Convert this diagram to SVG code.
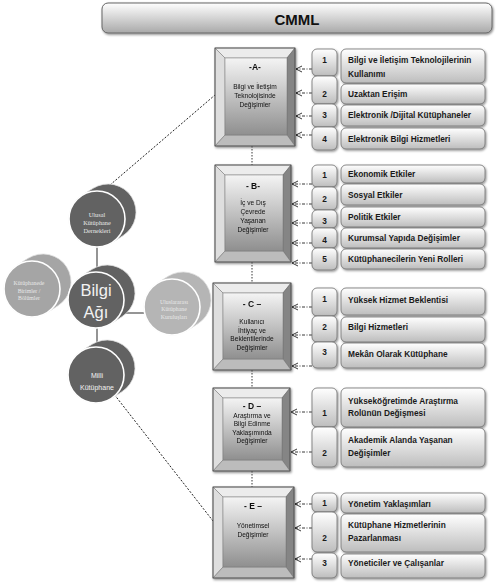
<svg xmlns="http://www.w3.org/2000/svg" xmlns:xlink="http://www.w3.org/1999/xlink" width="502" height="588" viewBox="0 0 502 588">
<style>
.lbl{font-family:"Liberation Sans",Arial,sans-serif;font-weight:bold;font-size:8.3px;fill:#1a1a1a}
.num{font-family:"Liberation Sans",Arial,sans-serif;font-weight:bold;font-size:8.3px;fill:#1a1a1a;text-anchor:middle}
.ttl{font-family:"Liberation Sans",Arial,sans-serif;font-weight:bold;font-size:8.5px;fill:#111;text-anchor:middle}
.sub{font-family:"Liberation Sans",Arial,sans-serif;font-size:6.6px;fill:#111;text-anchor:middle}
.box{fill:url(#gBox);stroke:#6e6e6e;stroke-width:0.8}
.bt{fill:#ececec;stroke:#777;stroke-width:0.5}
.bl{fill:#dedede;stroke:#777;stroke-width:0.5}
.br{fill:#858585;stroke:#666;stroke-width:0.5}
.bb{fill:#bcbcbc;stroke:#777;stroke-width:0.5}
.face{fill:url(#gFace);stroke:#777;stroke-width:0.5}
.outer{fill:none;stroke:#555;stroke-width:0.9}
.arr{fill:none;stroke:#222;stroke-width:0.9;stroke-dasharray:3 1.5 1 1.5;marker-end:url(#ah)}
.vc{fill:none;stroke:#222;stroke-width:0.9;stroke-dasharray:1.5 1.5}
.dl{fill:none;stroke:#222;stroke-width:1;stroke-dasharray:2 1.6}
.cl{fill:none;stroke:#7a7a7a;stroke-width:1.6}
.dk{fill:#626262}
.lt1{fill:#a5a5a5}
.lt2{fill:#b5b5b5}
.shell{stroke:#e0e0e0;stroke-width:0.8}
.fc{stroke:#ffffff;stroke-width:1.6}
.ser{font-family:"Liberation Serif","Times New Roman",serif;fill:#e8e8e8;text-anchor:middle}
.san{font-family:"Liberation Sans",Arial,sans-serif;fill:#f2f2f2;text-anchor:middle}
</style>
<defs>
<linearGradient id="gBox" x1="0" y1="0" x2="0" y2="1">
<stop offset="0" stop-color="#ffffff"/><stop offset="1" stop-color="#bdbdbd"/>
</linearGradient>
<linearGradient id="gHead" x1="0" y1="0" x2="0" y2="1">
<stop offset="0" stop-color="#ffffff"/><stop offset="1" stop-color="#a9a9a9"/>
</linearGradient>
<linearGradient id="gFace" x1="0" y1="0" x2="0" y2="1">
<stop offset="0" stop-color="#f4f4f4"/><stop offset="1" stop-color="#8f8f8f"/>
</linearGradient>
<filter id="sh" x="-10%" y="-20%" width="130%" height="160%">
<feDropShadow dx="1" dy="1.3" stdDeviation="0.8" flood-color="#000" flood-opacity="0.45"/>
</filter>
<marker id="ah" markerWidth="8" markerHeight="8" refX="6" refY="4" orient="auto" markerUnits="userSpaceOnUse">
<path d="M0,1 L6,4 L0,7" fill="none" stroke="#222" stroke-width="0.9"/>
</marker>
<path id="shellp" d="M15.04,23.63 L26.04,16.63 A28,28 0 0 0 -4.04,-30.63 L-15.04,-23.63 A28,28 0 0 0 15.04,23.63 Z"/>
<circle id="facec" cx="0" cy="0" r="28"/>
</defs>

<g id="header">
<rect x="102" y="3" width="390" height="30" rx="6" fill="url(#gHead)" stroke="#666" stroke-width="1" filter="url(#sh)"/>
<text x="297" y="25" font-family="'Liberation Sans',Arial,sans-serif" font-weight="bold" font-size="15" fill="#111" text-anchor="middle">CMML</text>
</g>

<g id="connectors">
<line class="cl" x1="97" y1="240" x2="97" y2="278"/>
<line class="cl" x1="55" y1="295" x2="74" y2="295"/>
<line class="cl" x1="118" y1="313" x2="150" y2="313"/>
<line class="cl" x1="97" y1="322" x2="97" y2="352"/>
<line class="dl" x1="110" y1="185" x2="215" y2="95"/>
<line class="dl" x1="110" y1="389" x2="213" y2="521"/>
<line class="vc" x1="252" y1="146" x2="252" y2="165"/>
<line class="vc" x1="252" y1="262" x2="252" y2="283"/>
<line class="vc" x1="252" y1="370" x2="252" y2="388"/>
<line class="vc" x1="252" y1="471" x2="252" y2="487"/>
<line class="arr" x1="312" y1="69" x2="296" y2="69"/>
<line class="arr" x1="312" y1="93" x2="296" y2="93"/>
<line class="arr" x1="312" y1="116" x2="296" y2="116"/>
<line class="arr" x1="312" y1="135" x2="296" y2="135"/>
<line class="arr" x1="312" y1="184" x2="292" y2="184"/>
<line class="arr" x1="312" y1="204" x2="292" y2="204"/>
<line class="arr" x1="312" y1="223" x2="292" y2="223"/>
<line class="arr" x1="312" y1="243" x2="292" y2="243"/>
<line class="arr" x1="312" y1="263" x2="292" y2="263"/>
<line class="arr" x1="312" y1="307" x2="292" y2="307"/>
<line class="arr" x1="312" y1="335" x2="292" y2="335"/>
<line class="arr" x1="312" y1="366" x2="292" y2="366"/>
<line class="arr" x1="312" y1="412" x2="291" y2="412"/>
<line class="arr" x1="312" y1="452" x2="291" y2="452"/>
<line class="arr" x1="312" y1="504" x2="295" y2="504"/>
<line class="arr" x1="312" y1="528" x2="295" y2="528"/>
<line class="arr" x1="312" y1="559" x2="295" y2="559"/>
</g>

<g id="circle-kutuphanede">
<use xlink:href="#shellp" x="32" y="289" class="lt1 shell"/>
<use xlink:href="#facec" x="32" y="289" class="lt1 fc"/>
<text class="ser" font-size="5.8"><tspan x="29" y="285">Kütüphanede</tspan><tspan x="29" y="293">Birimler /</tspan><tspan x="29" y="300">Bölümler</tspan></text>
</g>
<g id="circle-ulusal">
<use xlink:href="#shellp" x="97" y="219" class="dk shell"/>
<use xlink:href="#facec" x="97" y="219" class="dk fc"/>
<text class="ser" font-size="6.3"><tspan x="97" y="217">Ulusal</tspan><tspan x="97" y="225">Kütüphane</tspan><tspan x="97" y="233">Dernekleri</tspan></text>
</g>
<g id="circle-bilgi">
<use xlink:href="#shellp" x="96" y="300" class="dk shell"/>
<use xlink:href="#facec" x="96" y="300" class="dk fc"/>
<text class="san" font-size="16.5"><tspan x="96" y="296">Bilgi</tspan><tspan x="96" y="318">Ağı</tspan></text>
</g>
<g id="circle-uluslararasi">
<use xlink:href="#shellp" x="172" y="307" class="lt2 shell"/>
<use xlink:href="#facec" x="172" y="307" class="lt2 fc"/>
<text class="ser" font-size="5.8"><tspan x="174" y="304">Uluslararası</tspan><tspan x="174" y="311">Kütüphane</tspan><tspan x="174" y="319">Kuruluşları</tspan></text>
</g>
<g id="circle-milli">
<use xlink:href="#shellp" x="96" y="375" class="dk shell"/>
<use xlink:href="#facec" x="96" y="375" class="dk fc"/>
<text class="san" font-size="7"><tspan x="97" y="378">Milli</tspan><tspan x="97" y="390">Kütüphane</tspan></text>
</g>

<g id="box-A" filter="url(#sh)">
<polygon class="bt" points="215,48 295,48 287,58 225,58"/>
<polygon class="bl" points="215,48 225,58 225,135 215,146"/>
<polygon class="br" points="295,48 295,146 287,135 287,58"/>
<polygon class="bb" points="215,146 225,135 287,135 295,146"/>
<rect class="face" x="225" y="58" width="62" height="77"/>
<rect class="outer" x="215" y="48" width="80" height="98"/>
<text class="ttl" x="255" y="70">-A-</text>
<text class="sub"><tspan x="255" y="89">Bilgi ve İletişim</tspan><tspan x="255" y="98">Teknolojisinde</tspan><tspan x="255" y="107">Değişimler</tspan></text>
</g>
<g id="box-B" filter="url(#sh)">
<polygon class="bt" points="215,165 291,165 283,175 225,175"/>
<polygon class="bl" points="215,165 225,175 225,251 215,262"/>
<polygon class="br" points="291,165 291,262 283,251 283,175"/>
<polygon class="bb" points="215,262 225,251 283,251 291,262"/>
<rect class="face" x="225" y="175" width="58" height="76"/>
<rect class="outer" x="215" y="165" width="76" height="97"/>
<text class="ttl" x="253" y="189">- B-</text>
<text class="sub"><tspan x="253" y="205">İç ve Dış</tspan><tspan x="253" y="214">Çevrede</tspan><tspan x="253" y="223">Yaşanan</tspan><tspan x="253" y="232">Değişimler</tspan></text>
</g>
<g id="box-C" filter="url(#sh)">
<polygon class="bt" points="213,283 291,283 283,293 223,293"/>
<polygon class="bl" points="213,283 223,293 223,359 213,370"/>
<polygon class="br" points="291,283 291,370 283,359 283,293"/>
<polygon class="bb" points="213,370 223,359 283,359 291,370"/>
<rect class="face" x="223" y="293" width="60" height="66"/>
<rect class="outer" x="213" y="283" width="78" height="87"/>
<text class="ttl" x="252" y="307">- C –</text>
<text class="sub"><tspan x="252" y="324">Kullanıcı</tspan><tspan x="252" y="333">İhtiyaç ve</tspan><tspan x="252" y="341">Beklentilerinde</tspan><tspan x="252" y="350">Değişimler</tspan></text>
</g>
<g id="box-D" filter="url(#sh)">
<polygon class="bt" points="213,388 290,388 282,398 223,398"/>
<polygon class="bl" points="213,388 223,398 223,460 213,471"/>
<polygon class="br" points="290,388 290,471 282,460 282,398"/>
<polygon class="bb" points="213,471 223,460 282,460 290,471"/>
<rect class="face" x="223" y="398" width="59" height="62"/>
<rect class="outer" x="213" y="388" width="77" height="83"/>
<text class="ttl" x="252" y="409">- D –</text>
<text class="sub"><tspan x="252" y="418">Araştırma ve</tspan><tspan x="252" y="426">Bilgi Edinme</tspan><tspan x="252" y="435">Yaklaşımında</tspan><tspan x="252" y="443">Değişimler</tspan></text>
</g>
<g id="box-E" filter="url(#sh)">
<polygon class="bt" points="213,487 294,487 286,497 223,497"/>
<polygon class="bl" points="213,487 223,497 223,567 213,578"/>
<polygon class="br" points="294,487 294,578 286,567 286,497"/>
<polygon class="bb" points="213,578 223,567 286,567 294,578"/>
<rect class="face" x="223" y="497" width="63" height="70"/>
<rect class="outer" x="213" y="487" width="81" height="91"/>
<text class="ttl" x="253" y="509">- E –</text>
<text class="sub"><tspan x="253" y="528">Yönetimsel</tspan><tspan x="253" y="537">Değişimler</tspan></text>
</g>

<g id="item-A1"><rect class="box" filter="url(#sh)" x="312" y="49" width="25" height="27" rx="5"/><rect class="box" filter="url(#sh)" x="341" y="49" width="144" height="34" rx="5"/><text class="num" x="324.5" y="63">1</text><text class="lbl"><tspan x="348" y="63">Bilgi ve İletişim Teknolojilerinin</tspan><tspan x="348" y="77">Kullanımı</tspan></text></g>
<g id="item-A2"><rect class="box" filter="url(#sh)" x="312" y="76" width="25" height="28" rx="5"/><rect class="box" filter="url(#sh)" x="341" y="84" width="144" height="20" rx="5"/><text class="num" x="324.5" y="97">2</text><text class="lbl" x="348" y="97">Uzaktan Erişim</text></g>
<g id="item-A3"><rect class="box" filter="url(#sh)" x="312" y="104" width="25" height="23" rx="5"/><rect class="box" filter="url(#sh)" x="341" y="105" width="144" height="21" rx="5"/><text class="num" x="324.5" y="118">3</text><text class="lbl" x="348" y="118">Elektronik /Dijital Kütüphaneler</text></g>
<g id="item-A4"><rect class="box" filter="url(#sh)" x="312" y="127" width="25" height="23" rx="5"/><rect class="box" filter="url(#sh)" x="341" y="128" width="144" height="21" rx="5"/><text class="num" x="324.5" y="142">4</text><text class="lbl" x="348" y="142">Elektronik Bilgi Hizmetleri</text></g>

<g id="item-B1"><rect class="box" filter="url(#sh)" x="312" y="165" width="25" height="22" rx="5"/><rect class="box" filter="url(#sh)" x="341" y="165" width="144" height="18" rx="5"/><text class="num" x="324.5" y="178">1</text><text class="lbl" x="348" y="177">Ekonomik Etkiler</text></g>
<g id="item-B2"><rect class="box" filter="url(#sh)" x="312" y="187" width="25" height="23" rx="5"/><rect class="box" filter="url(#sh)" x="341" y="184" width="144" height="21" rx="5"/><text class="num" x="324.5" y="202">2</text><text class="lbl" x="348" y="198">Sosyal Etkiler</text></g>
<g id="item-B3"><rect class="box" filter="url(#sh)" x="312" y="210" width="25" height="18" rx="5"/><rect class="box" filter="url(#sh)" x="341" y="207" width="144" height="20" rx="5"/><text class="num" x="324.5" y="224">3</text><text class="lbl" x="348" y="220">Politik Etkiler</text></g>
<g id="item-B4"><rect class="box" filter="url(#sh)" x="312" y="228" width="25" height="20" rx="5"/><rect class="box" filter="url(#sh)" x="341" y="228" width="144" height="20" rx="5"/><text class="num" x="324.5" y="243">4</text><text class="lbl" x="348" y="241">Kurumsal Yapıda Değişimler</text></g>
<g id="item-B5"><rect class="box" filter="url(#sh)" x="312" y="248" width="25" height="22" rx="5"/><rect class="box" filter="url(#sh)" x="341" y="249" width="144" height="20" rx="5"/><text class="num" x="324.5" y="262">5</text><text class="lbl" x="348" y="262">Kütüphanecilerin Yeni Rolleri</text></g>

<g id="item-C1"><rect class="box" filter="url(#sh)" x="312" y="288" width="25" height="28" rx="5"/><rect class="box" filter="url(#sh)" x="341" y="288" width="144" height="27" rx="5"/><text class="num" x="324.5" y="302">1</text><text class="lbl" x="348" y="303">Yüksek Hizmet Beklentisi</text></g>
<g id="item-C2"><rect class="box" filter="url(#sh)" x="312" y="316" width="25" height="26" rx="5"/><rect class="box" filter="url(#sh)" x="341" y="317" width="144" height="25" rx="5"/><text class="num" x="324.5" y="330">2</text><text class="lbl" x="348" y="330">Bilgi Hizmetleri</text></g>
<g id="item-C3"><rect class="box" filter="url(#sh)" x="312" y="342" width="25" height="26" rx="5"/><rect class="box" filter="url(#sh)" x="341" y="343" width="144" height="25" rx="5"/><text class="num" x="324.5" y="355">3</text><text class="lbl" x="348" y="357">Mekân Olarak Kütüphane</text></g>

<g id="item-D1"><rect class="box" filter="url(#sh)" x="312" y="388" width="25" height="39" rx="5"/><rect class="box" filter="url(#sh)" x="341" y="388" width="144" height="39" rx="5"/><text class="num" x="324.5" y="416">1</text><text class="lbl"><tspan x="348" y="404">Yükseköğretimde Araştırma</tspan><tspan x="348" y="416">Rolünün Değişmesi</tspan></text></g>
<g id="item-D2"><rect class="box" filter="url(#sh)" x="312" y="427" width="25" height="40" rx="5"/><rect class="box" filter="url(#sh)" x="341" y="428" width="144" height="39" rx="5"/><text class="num" x="324.5" y="456">2</text><text class="lbl"><tspan x="348" y="443">Akademik Alanda Yaşanan</tspan><tspan x="348" y="456">Değişimler</tspan></text></g>

<g id="item-E1"><rect class="box" filter="url(#sh)" x="312" y="493" width="25" height="19" rx="5"/><rect class="box" filter="url(#sh)" x="341" y="493" width="144" height="20" rx="5"/><text class="num" x="324.5" y="506">1</text><text class="lbl" x="348" y="507">Yönetim Yaklaşımları</text></g>
<g id="item-E2"><rect class="box" filter="url(#sh)" x="312" y="512" width="25" height="40" rx="5"/><rect class="box" filter="url(#sh)" x="341" y="514" width="144" height="38" rx="5"/><text class="num" x="324.5" y="541">2</text><text class="lbl"><tspan x="348" y="528">Kütüphane Hizmetlerinin</tspan><tspan x="348" y="541">Pazarlanması</tspan></text></g>
<g id="item-E3"><rect class="box" filter="url(#sh)" x="312" y="553" width="25" height="25" rx="5"/><rect class="box" filter="url(#sh)" x="341" y="554" width="144" height="24" rx="5"/><text class="num" x="324.5" y="566">3</text><text class="lbl" x="348" y="566">Yöneticiler ve Çalışanlar</text></g>
</svg>
